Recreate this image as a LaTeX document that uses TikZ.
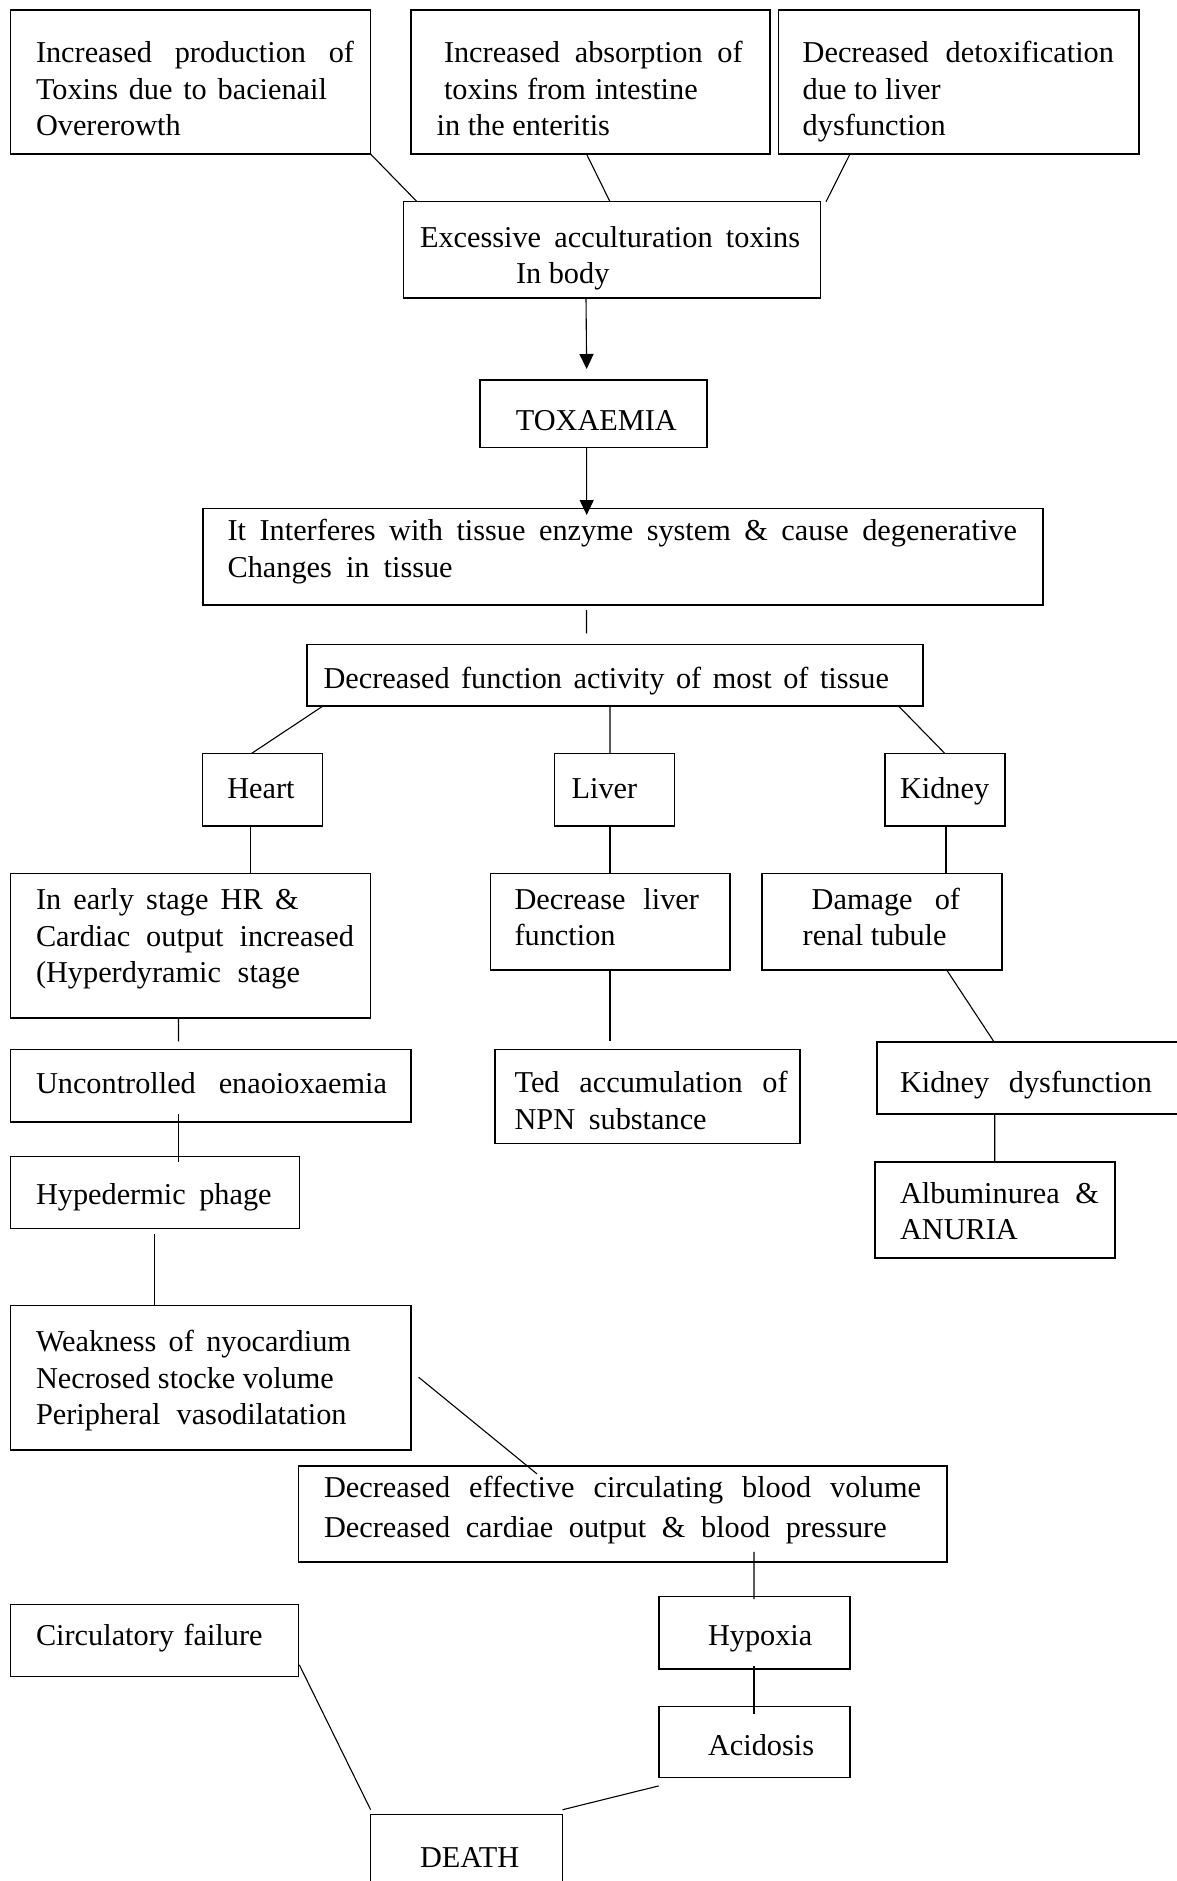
\documentclass[tikz,border=0pt]{standalone}
\usepackage{fontspec}
\setmainfont{Liberation Serif}
\usetikzlibrary{arrows.meta,calc}
% text size and line spacing of the boxes
\newcommand\fs[1]{\fontsize{30.3pt}{#1pt}\selectfont}
% a line spread out to a given width (font spaces, free to stretch)
\newcommand\jl[2]{\makebox[#1pt][s]{\spaceskip=0pt\xspaceskip=0pt #2}}
\hbadness=10000 \hfuzz=60pt

\begin{document}
\begin{tikzpicture}[x=1pt,y=-1pt,
  box/.style={draw, line width=1.6pt, rectangle, anchor=north west, outer sep=0pt,
    inner ysep=0pt, align=left, font=\fs{36.6},
    execute at begin node={\spaceskip=0pt\xspaceskip=0pt\strut}, execute at end node=\strut},
  bx/.style n args={4}{minimum width=#1pt, minimum height=#2pt, inner xsep=#3pt, text width=#4pt},
  dn/.style={execute at begin node={\spaceskip=0pt\xspaceskip=0pt\strut\rule{0pt}{\dimexpr 0.7\baselineskip+#1pt*2\relax}}},
  up/.style={execute at end node={\strut\rule[-\dimexpr 0.3\baselineskip+#1pt*2\relax]{0pt}{0pt}}},
  link/.style={line width=1.1pt},
  arr/.style={line width=1.1pt, -{Triangle[length=15pt,width=14pt]}}]

\useasboundingbox[fill=white] (0,0) rectangle (1177,1881);

% causes
\node[box, bx={360}{144}{25.5}{309}, font=\fs{36.7}, dn=9.7] (A) at (10.5,10)
  {\jl{318}{Increased production of}\\\jl{291}{Toxins due to bacienail}\\Overerowth};
\node[box, bx={359}{144}{25.6}{307.8}, font=\fs{36.7}, dn=9.7] (B) at (411,10)
  {\hspace*{7.4pt}\jl{298.7}{Increased absorption of}\\\hspace*{7.4pt}\jl{253.7}{toxins from intestine}\\in the enteritis};
\node[box, bx={360.5}{144}{24.2}{312.1}, font=\fs{36.7}, dn=9.7] (C) at (778.5,10)
  {\jl{311.3}{Decreased detoxification}\\due to liver\\dysfunction};
\node[box, bx={417}{96}{16.5}{384}, font=\fs{36}, dn=8.3] (X) at (403.5,201.7)
  {\jl{380}{Excessive acculturation toxins}\\\hspace*{96pt}In body};

% toxaemia and its effect
\node[box, bx={227.3}{67.3}{36.1}{155.1}, dn=9.7] (T) at (479.7,380) {TOXAEMIA};
\node[box, bx={839.8}{96.4}{24.6}{790.6}, font=\fs{36.7}, up=4.8] (I) at (203,508.3)
  {\jl{789.4}{It Interferes with tissue enzyme system \& cause degenerative}\\\jl{225.1}{Changes in tissue}};
\node[box, bx={615.9}{61.7}{16.6}{582.7}, dn=6.5] (D) at (306.9,644.3)
  {\jl{565.5}{Decreased function activity of most of tissue}};

% organs
\node[box, bx={120.1}{72.5}{24.8}{70.5}, dn=1.5] (H) at (202.5,753.6) {Heart};
\node[box, bx={120}{72.5}{17.2}{85.6}, dn=1.5] (L) at (554.4,753.6) {Liver};
\node[box, bx={120}{72.5}{15}{90}, dn=1.5] (K) at (885,753.6) {Kidney};

% heart branch
\node[box, bx={360.1}{144.3}{25.5}{309.1}, up=7] (E) at (10.5,873.6)
  {\jl{262.6}{In early stage HR \&}\\\jl{318}{Cardiac output increased}\\\jl{264}{(Hyperdyramic stage}};
\node[box, bx={400.5}{72.2}{25.5}{349.5}] (U) at (10.5,1049.6)
  {\jl{351}{Uncontrolled enaoioxaemia}};
\node[box, bx={288.8}{72.2}{25.5}{237.8}, dn=4.3] (Hyp) at (10.5,1156.4)
  {\jl{235.6}{Hypedermic phage}};
\node[box, bx={400.5}{144.6}{25.5}{349.5}, dn=3.2] (W) at (10.5,1305.5)
  {\jl{315}{Weakness of nyocardium}\\Necrosed stocke volume\\\jl{310.6}{Peripheral vasodilatation}};
\node[box, bx={648.1}{95.9}{25.4}{597.3}, font=\fs{39.6}, up=4.3] (DE) at (298.6,1465.9)
  {\jl{597}{Decreased effective circulating blood volume}\\\jl{562.7}{Decreased cardiae output \& blood pressure}};

% liver branch
\node[box, bx={239.4}{96.4}{24}{191.4}, font=\fs{35.8}, up=1.8] (DL) at (490.6,873.6)
  {\jl{184.4}{Decrease liver}\\function};
\node[box, bx={304.7}{94}{19.6}{265.5}, font=\fs{37.5}, dn=7.1] (TA) at (495,1049.6)
  {\jl{273.1}{Ted accumulation of}\\\jl{192.1}{NPN substance}};

% kidney branch
\node[box, bx={240}{96.4}{40.7}{158.6}, font=\fs{35.8}, up=1.8] (DR) at (762,873.6)
  {\hspace*{9pt}\jl{148.3}{Damage of}\\renal tubule};
\node[box, bx={308}{72.1}{23}{262}, dn=7.1] (KD) at (877,1041.8)
  {\jl{252}{Kidney dysfunction}};
\node[box, bx={240.1}{96.1}{25.3}{189.5}, font=\fs{35.7}, dn=4.8] (Alb) at (874.7,1161.8)
  {\jl{199}{Albuminurea \&}\\ANURIA};

% outcome
\node[box, bx={191.3}{72.1}{49.3}{92.7}, dn=5.6] (HX) at (658.7,1596.6) {Hypoxia};
\node[box, bx={191.3}{71.3}{49.3}{92.7}, dn=6] (AC) at (658.7,1706.3) {Acidosis};
\node[box, bx={288.1}{72}{25.5}{237.1}, up=2.4] (CF) at (10.5,1604.6)
  {\jl{226.6}{Circulatory failure}};
\node[box, bx={192}{90.5}{49.4}{93.2}] (DT) at (370.6,1814.5) {DEATH};

% connectors
\draw[link] (A.south east) -- ($(X.north west)+(13.5,0)$);
\draw[link] ($(B.south)+(-4,0)$) -- ($(X.north)+(-2,0)$);
\draw[link] ($(C.south west)+(71.5,0)$) -- ($(X.north east)+(5.5,0)$);
\draw[arr] ($(X.south)+(-26,0)$) -- ($(T.north)+(-6.7,-11)$);
\draw[arr] ($(T.south)+(-6.7,0)$) -- ($(I.north)+(-36.2,6.7)$);
\draw[link] ($(I.south)+(-36.4,5.3)$) -- ($(D.north)+(-28.4,-11)$);
\draw[link] ($(D.south west)+(16.1,0)$) -- ($(H.north)+(-11.25,0)$);
\draw[link] ($(D.south)+(-4.85,0)$) -- ($(L.north)+(-4.4,0)$);
\draw[link] ($(D.south east)+(-24.3,0)$) -- (K.north);
\draw[link] ($(H.south)+(-12,0)$) -- ($(E.north)+(60,0)$);
\draw[link] ($(L.south)+(-4.4,0)$) -- ($(DL.north)+(-0.3,0)$);
\draw[link] ($(K.south)+(1,0)$) -- ($(DR.north)+(64,0)$);
\draw[link] ($(E.south)+(-12,0)$) -- ($(U.north)+(-32.25,-8.2)$);
\draw[link] ($(DL.south)+(-0.3,0)$) -- ($(TA.north)+(-37.35,-8.2)$);
\draw[link] ($(DR.south)+(64.7,0)$) -- ($(KD.north)+(-37,0)$);
\draw[link] ($(U.south)+(-32.25,-7.9)$) -- ($(Hyp.north)+(23.6,5.4)$);
\draw[link] ($(KD.south)+(-36.3,0)$) -- (Alb.north);
\draw[link] ($(Hyp.south)+(-0.4,5.7)$) -- ($(W.north)+(-56.25,0)$);
\draw[link] ($(W.east)+(7.6,-0.6)$) -- ($(DE.north)+(-85.65,8)$);
\draw[link] ($(DE.south)+(131.35,-9.9)$) -- ($(HX.north)+(-0.35,2.4)$);
\draw[link] ($(HX.south)+(-0.35,-2.7)$) -- ($(AC.north)+(-0.35,7.2)$);
\draw[link] ($(AC.south west)+(0,8.3)$) -- ($(DT.north east)+(0,-4.8)$);
\draw[link] ($(CF.south east)+(0.7,-11.8)$) -- ($(DT.north west)+(0,-4.8)$);
\end{tikzpicture}
\end{document}
